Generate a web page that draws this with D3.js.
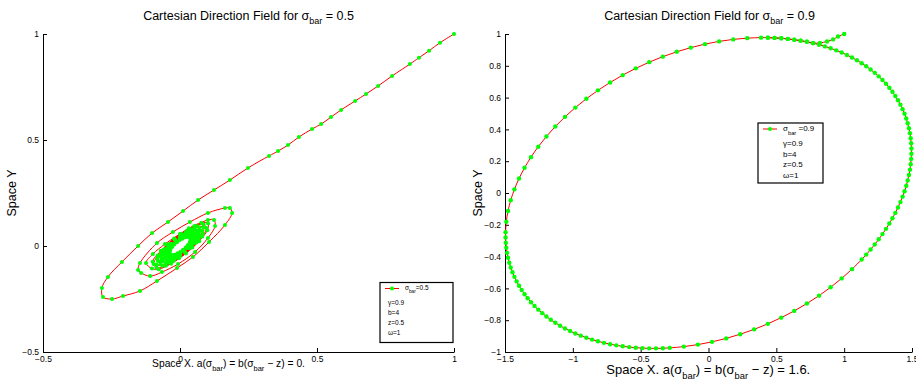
<!DOCTYPE html>
<html><head><meta charset="utf-8">
<script src="https://cdn.jsdelivr.net/npm/d3@7"></script>
<style>
body{margin:0;background:#fff}
text{font-family:"Liberation Sans",Arial,Helvetica,sans-serif;fill:#000}
</style>
</head><body>
<svg id="chart" width="916" height="384"></svg>
<script>
// ---------- DATA ----------
const sigmaBar = [0.5, 0.9];
const xLabelValue = ["0.", "1.6."];
const legendParams = ["\u03b3=0.9", "b=4", "z=0.5", "\u03c9=1"];

const leftXTicks = [-0.5, 0, 0.5, 1];
const leftYTicks = [-0.5, 0, 0.5, 1];
const rightXTicks = [-1.5, -1, -0.5, 0, 0.5, 1, 1.5];
const rightYTicks = [-1, -0.8, -0.6, -0.4, -0.2, 0, 0.2, 0.4, 0.6, 0.8, 1];

// sigma_bar = 0.5 trajectory: approach along the diagonal, two wide loops ...
const leftApproach = [
 [1.000,1.000],[0.949,0.959],[0.909,0.921],[0.872,0.888],[0.839,0.858],[0.774,0.802],[0.723,0.755],
 [0.679,0.717],[0.639,0.684],[0.588,0.642],[0.551,0.608],[0.515,0.575],[0.482,0.552],[0.434,0.514],
 [0.394,0.476],[0.358,0.448],[0.325,0.425],[0.248,0.368],[0.182,0.311],[0.124,0.264],[0.066,0.217],
 [0.011,0.165],[-0.044,0.113],[-0.102,0.061],[-0.153,0.000],[-0.212,-0.075],[-0.263,-0.146],
 [-0.285,-0.198],[-0.281,-0.241],[-0.248,-0.250],[-0.208,-0.236],[-0.146,-0.212],[-0.084,-0.165],
 [-0.011,-0.104],[0.047,-0.052],[0.106,0.019],[0.164,0.099],[0.190,0.156],[0.182,0.179],[0.164,0.179],
 [0.102,0.156],[0.036,0.113],[-0.026,0.066],[-0.084,0.014],[-0.146,-0.080],[-0.153,-0.113],
 [-0.142,-0.127],[-0.109,-0.142],[-0.066,-0.123],[-0.007,-0.085],[0.055,-0.028],[0.102,0.038],
 [0.128,0.094],[0.124,0.123],[0.102,0.123],[0.055,0.094],[0.000,0.057],[-0.055,0.009],[-0.099,-0.038],
 [-0.124,-0.080]
];
// ... then the tight inner spiral (the dense green core)
const leftCore = [
 [-0.1025,-0.1061],[-0.0780,-0.1094],[-0.0324,-0.0834],[0.0217,-0.0350],[0.0700,0.0228],[0.0996,0.0744],
 [0.1025,0.1061],[0.0780,0.1094],[0.0324,0.0834],[-0.0217,0.0350],[-0.0700,-0.0228],[-0.0996,-0.0744],
 [-0.0854,-0.1027],[-0.0517,-0.0927],[-0.0040,-0.0578],[0.0446,-0.0074],[0.0813,0.0449],[0.0962,0.0853],
 [0.0854,0.1027],[0.0517,0.0927],[0.0040,0.0578],[-0.0446,0.0074],[-0.0813,-0.0449],[-0.0962,-0.0853],
 [-0.0854,-0.0884],[-0.0640,-0.0928],[-0.0253,-0.0723],[0.0201,-0.0324],[0.0601,0.0161],[0.0840,0.0604],
 [0.0854,0.0884],[0.0640,0.0928],[0.0253,0.0723],[-0.0201,0.0324],[-0.0601,-0.0161],[-0.0840,-0.0604],
 [-0.0706,-0.0863],[-0.0418,-0.0791],[-0.0018,-0.0508],[0.0388,-0.0088],[0.0690,0.0355],[0.0806,0.0703],
 [0.0706,0.0863],[0.0418,0.0791],[0.0018,0.0508],[-0.0388,0.0088],[-0.0690,-0.0355],[-0.0806,-0.0703],
 [-0.0712,-0.0737],[-0.0526,-0.0785],[-0.0198,-0.0624],[0.0182,-0.0294],[0.0514,0.0114],[0.0708,0.0491],
 [0.0712,0.0737],[0.0526,0.0785],[0.0198,0.0624],[-0.0182,0.0294],[-0.0514,-0.0114],[-0.0708,-0.0491],
 [-0.0589,-0.0726],[-0.0342,-0.0674],[-0.0005,-0.0442],[0.0335,-0.0092],[0.0584,0.0284],[0.0677,0.0584],
 [0.0589,0.0726],[0.0342,0.0674],[0.0005,0.0442],[-0.0335,0.0092],[-0.0584,-0.0284],[-0.0677,-0.0584],
 [-0.0598,-0.0619],[-0.0438,-0.0665],[-0.0160,-0.0533],[0.0160,-0.0258],[0.0438,0.0087],[0.0598,0.0407],
 [0.0598,0.0619],[0.0438,0.0665],[0.0160,0.0533],[-0.0160,0.0258],[-0.0438,-0.0087],[-0.0598,-0.0407],
 [-0.0484,-0.0604],[-0.0276,-0.0568],[0.0006,-0.0380],[0.0286,-0.0090],[0.0490,0.0224],[0.0562,0.0478],
 [0.0484,0.0604],[0.0276,0.0568],[-0.0006,0.0380],[-0.0286,0.0090],[-0.0490,-0.0224],[-0.0562,-0.0478],
 [-0.0498,-0.0516],[-0.0360,-0.0561],[-0.0127,-0.0455],[0.0141,-0.0228],[0.0371,0.0061],[0.0502,0.0333],
 [0.0498,0.0516],[0.0360,0.0561],[0.0127,0.0455],[-0.0141,0.0228],[-0.0371,-0.0061],[-0.0502,-0.0333],
 [-0.0406,-0.0511],[-0.0229,-0.0485],[0.0010,-0.0328],[0.0246,-0.0084],[0.0415,0.0183],[0.0474,0.0401],
 [0.0406,0.0511],[0.0229,0.0485],[-0.0010,0.0328],[-0.0246,0.0084],[-0.0415,-0.0183],[-0.0474,-0.0401],
 [-0.0413,-0.0427],[-0.0296,-0.0470],[-0.0100,-0.0386],[0.0123,-0.0199],[0.0314,0.0042],[0.0420,0.0270],
 [0.0413,0.0427],[0.0296,0.0470],[0.0100,0.0386],[-0.0123,0.0199],[-0.0314,-0.0042],[-0.0420,-0.0270],
 [-0.0341,-0.0432],[-0.0191,-0.0411],[0.0011,-0.0281],[0.0209,-0.0075],[0.0353,0.0151],[0.0401,0.0336],
 [0.0341,0.0432],[0.0191,0.0411],[-0.0011,0.0281],[-0.0209,0.0075],[-0.0353,-0.0151],[-0.0401,-0.0336],
 [-0.0370,-0.0383],[-0.0265,-0.0420],[-0.0090,-0.0345],[0.0109,-0.0177],[0.0280,0.0039],[0.0375,0.0244],
 [0.0370,0.0383],[0.0265,0.0420],[0.0090,0.0345],[-0.0109,0.0177],[-0.0280,-0.0039],[-0.0375,-0.0244],
 [-0.0370,-0.0383]
];
const leftTrajectory = leftApproach.concat(leftCore);

// sigma_bar = 0.9 trajectory
const rightX = [
 1.000,0.955,0.918,0.874,0.822,0.771,
 0.7253,0.6792,0.6322,0.5845,0.5361,0.4871,0.4374,0.3872,
 0.2855,0.1823,0.0783,-0.0261,-0.1304,-0.2340,-0.3365,-0.4374,-0.5361,-0.6322,-0.7253,-0.8148,-0.9003,
 -0.9815,-1.0578,-1.1290,-1.1948,-1.2547,-1.3084,-1.3558,-1.3966,-1.4306,-1.4577,-1.4776,-1.4903,-1.4958,
 -1.4958,-1.4940,-1.4903,-1.4849,-1.4776,-1.4685,-1.4577,-1.4450,-1.4306,-1.4145,-1.3966,-1.3771,-1.3558,
 -1.3330,-1.3084,-1.2823,-1.2547,-1.2254,-1.1948,-1.1626,-1.1290,-1.0941,-1.0578,-1.0203,-0.9815,-0.9415,
 -0.9003,-0.8581,-0.8148,-0.7705,-0.7253,-0.6792,-0.6322,-0.5845,-0.5361,-0.4871,-0.4374,-0.3872,-0.3365,-0.2855,
 -0.1823,-0.0783,0.0261,0.1304,0.2340,0.3365,0.4374,0.5361,0.6322,0.7253,0.8148,0.9003,0.9815,1.0578,1.1290,
 1.1626,1.1948,1.2254,1.2547,1.2823,1.3084,1.3330,1.3558,1.3771,1.3966,1.4145,1.4306,1.4450,1.4577,1.4685,
 1.4776,1.4849,1.4903,1.4940,1.4958,
 1.4958,1.4940,1.4903,1.4849,1.4776,1.4685,1.4577,1.4450,1.4306,1.4145,1.3966,1.3771,1.3558,1.3330,1.3084,
 1.2823,1.2547,1.2254,1.1948,1.1626,1.1290,1.0941,1.0578,1.0203,0.9815,0.9415,0.9003,0.8581,0.8148,0.7705,
 0.7253,0.6792,0.6322,0.5845,0.5361,0.4871,0.4374
];
const rightY = [
 1.000,0.984,0.966,0.953,0.944,0.943,
 0.9508,0.9581,0.9642,0.9692,0.9730,0.9756,0.9770,0.9772,
 0.9740,0.9661,0.9535,0.9363,0.9144,0.8881,0.8576,0.8228,0.7840,0.7414,0.6952,0.6456,0.5928,
 0.5372,0.4789,0.4183,0.3557,0.2913,0.2256,0.1587,0.0910,0.0229,-0.0452,-0.1133,-0.1807,-0.2473,
 -0.2801,-0.3126,-0.3447,-0.3764,-0.4077,-0.4385,-0.4686,-0.4982,-0.5273,-0.5557,-0.5834,-0.6104,-0.6367,
 -0.6622,-0.6868,-0.7106,-0.7337,-0.7557,-0.7769,-0.7971,-0.8163,-0.8347,-0.8519,-0.8680,-0.8832,-0.8973,
 -0.9102,-0.9221,-0.9328,-0.9424,-0.9508,-0.9581,-0.9642,-0.9692,-0.9730,-0.9756,-0.9770,-0.9772,-0.9762,-0.9740,
 -0.9661,-0.9535,-0.9363,-0.9144,-0.8881,-0.8576,-0.8228,-0.7840,-0.7414,-0.6952,-0.6456,-0.5928,-0.5372,-0.4789,-0.4183,
 -0.3873,-0.3557,-0.3237,-0.2913,-0.2586,-0.2256,-0.1922,-0.1587,-0.1250,-0.0910,-0.0571,-0.0229,0.0112,0.0452,0.0793,
 0.1133,0.1470,0.1807,0.2140,0.2473,
 0.2801,0.3126,0.3447,0.3764,0.4077,0.4385,0.4686,0.4982,0.5273,0.5557,0.5834,0.6104,0.6367,0.6622,0.6868,
 0.7106,0.7337,0.7557,0.7769,0.7971,0.8163,0.8347,0.8519,0.8680,0.8832,0.8973,0.9102,0.9221,0.9328,0.9424,
 0.9508,0.9581,0.9642,0.9692,0.9730,0.9756,0.9770
];
const rightTrajectory = d3.zip(rightX, rightY);

// ---------- DRAWING ----------
const svg = d3.select("#chart");
const RED = "#ff0000", GREEN = "#00ff00";
const fmt = d => (d < 0 ? "\u2212" : "") + Math.abs(d);

function richText(g, x, y, parts, size, anchor, subShift) {
  const t = g.append("text").attr("x", x).attr("y", y)
    .attr("font-size", size).attr("text-anchor", anchor);
  let shifted = 0;
  parts.forEach(p => {
    const ts = t.append("tspan").text(p.t);
    if (p.sub) { ts.attr("font-size", size * 0.72).attr("dy", subShift - shifted); shifted = subShift; }
    else { if (shifted) ts.attr("dy", -shifted); shifted = 0; }
  });
  return t;
}

function panel(cfg) {
  const g = svg.append("g");
  const x = d3.scaleLinear().domain(cfg.xDomain).range(cfg.xRange);
  const y = d3.scaleLinear().domain(cfg.yDomain).range([352, 34]);

  const xAxis = d3.axisBottom(x).tickValues(cfg.xTicks).tickFormat(fmt)
    .tickSizeInner(-4).tickSizeOuter(0).tickPadding(4);
  const yAxis = d3.axisLeft(y).tickValues(cfg.yTicks).tickFormat(fmt)
    .tickSizeInner(-4).tickSizeOuter(0).tickPadding(4);

  const gx = g.append("g").attr("transform", "translate(0,352)").call(xAxis);
  const gy = g.append("g").attr("transform", `translate(${cfg.xRange[0]},0)`).call(yAxis);
  [gx, gy].forEach(a => {
    a.attr("font-family", null);
    a.selectAll("text").attr("font-size", 8.5).style("fill", "#000");
    a.selectAll("line,path").attr("stroke", "#000");
  });

  const line = d3.line().x(d => x(d[0])).y(d => y(d[1])).curve(d3.curveCatmullRom);
  g.append("path").datum(cfg.data).attr("d", line)
    .attr("fill", "none").attr("stroke", RED).attr("stroke-width", 1);
  g.append("g").selectAll("circle").data(cfg.data).join("circle")
    .attr("cx", d => x(d[0])).attr("cy", d => y(d[1])).attr("r", cfg.markerR).attr("fill", GREEN);

  richText(g, cfg.titleX, 20,
    [{t: "Cartesian Direction Field for \u03c3"}, {t: "bar", sub: true}, {t: " = " + cfg.sigma}], 12.5, "middle", 4);
  richText(g, cfg.xLabelX, cfg.xLabelY,
    [{t: "Space X. a(\u03c3"}, {t: "bar", sub: true}, {t: ") = b(\u03c3"}, {t: "bar", sub: true},
     {t: " \u2212 z) = " + cfg.xVal}], cfg.xLabelSize, "middle", cfg.xLabelSize * 0.35);
  g.append("text").attr("transform", `translate(${cfg.yLabelX},193) rotate(-90)`)
    .attr("text-anchor", "middle").attr("font-size", 12.5).text("Space Y");

  const L = cfg.legend;
  g.append("rect").attr("x", L.x).attr("y", L.y).attr("width", L.w).attr("height", L.h)
    .attr("fill", "#fff").attr("stroke", "#000").attr("stroke-width", 1.2);
  g.append("line").attr("x1", L.x + 5).attr("x2", L.x + 19).attr("y1", L.y + 6).attr("y2", L.y + 6)
    .attr("stroke", RED).attr("stroke-width", 1);
  g.append("circle").attr("cx", L.x + 12).attr("cy", L.y + 6).attr("r", 2).attr("fill", GREEN);
  richText(g, L.tx1, L.y + 6 + L.fs * 0.3,
    [{t: "\u03c3"}, {t: "bar", sub: true}, {t: L.gap + "=" + cfg.sigma}], L.fs, "start", L.fs * 0.4);
  legendParams.forEach((p, i) => {
    g.append("text").attr("x", L.tx).attr("y", L.row0 + i * L.dy).attr("font-size", L.fs).text(p);
  });
}

panel({
  xDomain: [-0.5, 1], xRange: [43, 454], yDomain: [-0.5, 1],
  xTicks: leftXTicks, yTicks: leftYTicks, data: leftTrajectory, sigma: sigmaBar[0], markerR: 2,
  titleX: 248.5, xLabelX: 228.5, xLabelY: 367, xLabelSize: 10.3, xVal: xLabelValue[0], yLabelX: 16,
  legend: {x: 380, y: 282.5, w: 73, h: 60, fs: 6.5, tx1: 405, tx: 388, row0: 305, dy: 10, gap: ""}
});
panel({
  xDomain: [-1.5, 1.5], xRange: [505, 912], yDomain: [-1, 1],
  xTicks: rightXTicks, yTicks: rightYTicks, data: rightTrajectory, sigma: sigmaBar[1], markerR: 2.2,
  titleX: 709.5, xLabelX: 708.3, xLabelY: 374, xLabelSize: 13, xVal: xLabelValue[1], yLabelX: 482,
  legend: {x: 758, y: 123, w: 65, h: 60, fs: 8, tx1: 783, tx: 783, row0: 146, dy: 10.5, gap: " "}
});
</script>
</body></html>
